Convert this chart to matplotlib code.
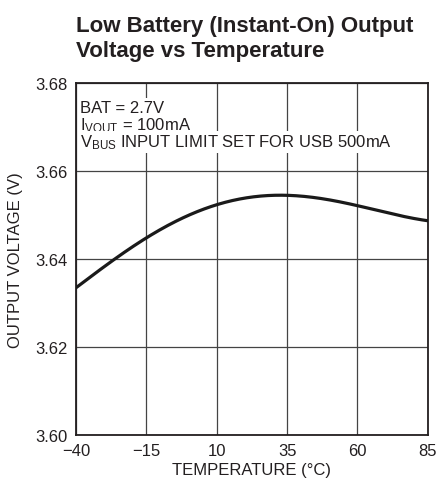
import matplotlib.pyplot as plt
import numpy as np

plt.rcParams['font.family'] = ['Liberation Sans', 'DejaVu Sans']
plt.rcParams['mathtext.fontset'] = 'custom'
plt.rcParams['mathtext.rm'] = 'Liberation Sans'
plt.rcParams['mathtext.it'] = 'Liberation Sans'

temp = [-40, -26.2, -15, -3.1, 10, 21.8, 30, 35, 47.4, 60, 72, 85]
vout = [3.6334, 3.6400, 3.6448, 3.6490, 3.6520, 3.6542, 3.6547, 3.6545, 3.6534, 3.6520, 3.6505, 3.6486]
xticks = [-40, -15, 10, 35, 60, 85]
xlabels = ['\u221240', '\u221215', '10', '35', '60', '85']
yticks = [3.60, 3.62, 3.64, 3.66, 3.68]

# smooth through the read points
tt = np.linspace(-40, 85, 300)
coef = np.polyfit(temp, vout, 4)
vv = np.polyval(coef, tt)

fig = plt.figure(figsize=(4.37, 4.89), dpi=100)
ax = fig.add_axes([0.174, 0.1094, 0.805, 0.7186])

ax.plot(tt, vv, color='#1a1a1a', lw=2.3, zorder=3)
ax.set_xlim(-40, 85)
ax.set_ylim(3.60, 3.68)
ax.set_xticks(xticks)
ax.set_xticklabels(xlabels)
ax.set_yticks(yticks)
ax.set_yticklabels(['%.2f' % v for v in yticks])
ax.tick_params(length=0, labelsize=12, colors='#231f20', pad=6)
ax.grid(True, color='#444444', lw=0.9)
for s in ax.spines.values():
    s.set_linewidth(1.3)
    s.set_color('#231f20')

ax.set_xlabel('TEMPERATURE (°C)', fontsize=12, color='#231f20', labelpad=3)
ax.set_ylabel('OUTPUT VOLTAGE (V)', fontsize=12, color='#231f20', labelpad=9)

box = dict(facecolor='white', edgecolor='none', pad=1.0)
ax.text(-38.5, 3.6735, 'BAT = 2.7V', fontsize=12, color='#231f20', va='baseline', bbox=box, zorder=4)
ax.text(-38.5, 3.6695, r'I$_{\mathrm{VOUT}}$ = 100mA', fontsize=12, color='#231f20', va='baseline', bbox=box, zorder=4)
ax.text(-38.5, 3.6655, r'V$_{\mathrm{BUS}}$ INPUT LIMIT SET FOR USB 500mA', fontsize=12, color='#231f20', va='baseline', bbox=box, zorder=4)

fig.text(0.174, 0.968, 'Low Battery (Instant-On) Output\nVoltage vs Temperature',
         fontsize=16, fontweight='bold', color='#231f20', va='top', ha='left', linespacing=1.25)

fig.savefig('out.png', dpi=100)
